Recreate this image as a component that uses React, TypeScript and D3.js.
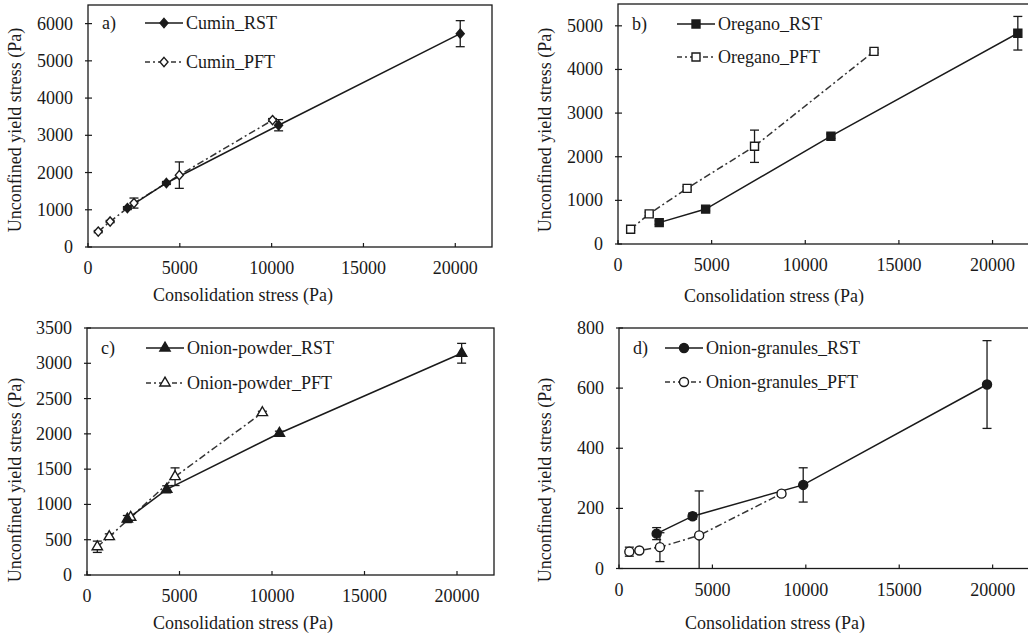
import React from 'react';
import * as d3 from 'd3';

// Cumin
const cuminRstX = [2145, 4270, 10380, 20270];
const cuminRstY = [1045, 1720, 3270, 5730];
const cuminRstErr = [40, 40, 150, 350];
const cuminPftX = [557, 1205, 2503, 4973, 10050];
const cuminPftY = [414, 684, 1180, 1930, 3410];
const cuminPftErr = [30, 30, 135, 355, 40];

// Oregano
const oreganoRstX = [2200, 4680, 11370, 21350];
const oreganoRstY = [490, 800, 2470, 4830];
const oreganoRstErr = [40, 40, 50, 385];
const oreganoPftX = [675, 1665, 3690, 7290, 13670];
const oreganoPftY = [338, 690, 1275, 2240, 4415];
const oreganoPftErr = [30, 40, 40, 370, 40];

// Onion powder
const powderRstX = [2180, 4310, 10400, 20250];
const powderRstY = [793, 1214, 2008, 3142];
const powderRstErr = [50, 50, 30, 140];
const powderPftX = [557, 1205, 2360, 4760, 9480];
const powderPftY = [400, 543, 817, 1393, 2300];
const powderPftErr = [80, 40, 40, 125, 20];

// Onion granules
const granRstX = [2015, 3940, 9860, 19700];
const granRstY = [116, 174, 278, 612];
const granRstErr = [20, 10, 57, 146];
const granPftX = [553, 1090, 2190, 4290, 8700];
const granPftY = [56, 60, 71, 110, 249];
const granPftErr = [15, 5, 48, 148, 8];

const xTicks = [0, 5000, 10000, 15000, 20000];
const yTicksA = [0, 1000, 2000, 3000, 4000, 5000, 6000];
const yTicksB = [0, 1000, 2000, 3000, 4000, 5000];
const yTicksC = [0, 500, 1000, 1500, 2000, 2500, 3000, 3500];
const yTicksD = [0, 200, 400, 600, 800];

const INK = '#1a1a1a';

type Series = { x: number[]; y: number[]; err: number[]; name: string };

const zip = (s: Series) => s.x.map((x, i) => ({ x, y: s.y[i], e: s.err[i] }));

const shapes: Record<string, string> = {
  diamond: 'M0,-4.6L4,0L0,4.6L-4,0Z',
  square: d3.symbol(d3.symbolSquare, 64)() || '',
  triangle: d3.symbol(d3.symbolTriangle, 46)() || '',
  circle: d3.symbol(d3.symbolCircle, 64)() || '',
};

function Marker({ type, filled, x, y }: { type: string; filled: boolean; x: number; y: number }) {
  return (
    <path
      d={shapes[type]}
      transform={`translate(${x},${y})`}
      fill={filled ? INK : '#fff'}
      stroke={INK}
      strokeWidth={1.4}
    />
  );
}

function T({ fs, children, ...rest }: any) {
  return (
    <text fill={INK} style={{ fontSize: fs + 'px', fontFamily: 'Liberation Serif' }} {...rest}>
      {children}
    </text>
  );
}

function Panel(props: {
  left: number; right: number; top: number; bottom: number;
  yMax: number; yTicks: number[]; tag: string; marker: string;
  rst: Series; pft: Series;
  legendX: number; legendY: number; legendGap: number;
  xTitle: [number, number]; yTitle: [number, number];
  fs: number;
}) {
  const { left, right, top, bottom, yMax, yTicks, tag, marker, rst, pft, fs } = props;
  const x = d3.scaleLinear().domain([0, 22000]).range([left, right]);
  const y = d3.scaleLinear().domain([0, yMax]).range([bottom, top]);
  const line = d3.line<{ x: number; y: number }>().x(d => x(d.x)).y(d => y(d.y));
  const pftPts = zip(pft);
  const rstPts = zip(rst);
  const dash = '7,3,2,3';

  const errBars = (pts: { x: number; y: number; e: number }[], key: string) =>
    pts.map((p, i) => {
      const cx = x(p.x);
      const y1 = y(Math.min(yMax, p.y + p.e));
      const y0 = y(Math.max(0, p.y - p.e));
      return (
        <g key={key + i} stroke={INK} strokeWidth={1.3}>
          <line x1={cx} x2={cx} y1={y0} y2={y1} />
          <line x1={cx - 4.5} x2={cx + 4.5} y1={y1} y2={y1} />
          {p.y - p.e > 0 && <line x1={cx - 4.5} x2={cx + 4.5} y1={y0} y2={y0} />}
        </g>
      );
    });

  const lx = props.legendX;
  const ly = props.legendY;
  return (
    <g>
      <rect x={left} y={top} width={right - left} height={bottom - top} fill="none" stroke={INK} strokeWidth={1.3} />
      {xTicks.map(t => (
        <g key={'xt' + t}>
          <line x1={x(t)} x2={x(t)} y1={bottom} y2={bottom - 4} stroke={INK} strokeWidth={1.2} />
          <T x={x(t)} y={bottom + 27} textAnchor="middle" fs={fs}>{t}</T>
        </g>
      ))}
      {yTicks.map(t => (
        <g key={'yt' + t}>
          <line x1={left - 3} x2={left + 4} y1={y(t)} y2={y(t)} stroke={INK} strokeWidth={1.2} />
          <T x={left - 15} y={y(t) + 6} textAnchor="end" fs={fs}>{t}</T>
        </g>
      ))}
      <T x={props.xTitle[0]} y={props.xTitle[1]} textAnchor="middle" fs={fs}>Consolidation stress (Pa)</T>
      <T
        transform={`translate(${props.yTitle[0] + 6},${props.yTitle[1]}) rotate(-90)`}
        textAnchor="middle"
        fs={fs}
      >Unconfined yield stress (Pa)</T>

      {errBars(pftPts, 'pe')}
      {errBars(rstPts, 're')}
      <path d={line(pftPts) || ''} fill="none" stroke="#333" strokeWidth={1.5} strokeDasharray={dash} />
      <path d={line(rstPts) || ''} fill="none" stroke={INK} strokeWidth={1.5} />
      {pftPts.map((p, i) => <Marker key={'pm' + i} type={marker} filled={false} x={x(p.x)} y={y(p.y)} />)}
      {rstPts.map((p, i) => <Marker key={'rm' + i} type={marker} filled={true} x={x(p.x)} y={y(p.y)} />)}

      <T x={left + 14} y={ly + 6} fs={fs}>{tag}</T>
      <line x1={lx} x2={lx + 38} y1={ly} y2={ly} stroke={INK} strokeWidth={1.5} />
      <Marker type={marker} filled={true} x={lx + 19} y={ly} />
      <T x={lx + 41} y={ly + 6} fs={fs}>{rst.name}</T>
      <line x1={lx} x2={lx + 38} y1={ly + props.legendGap} y2={ly + props.legendGap} stroke="#333" strokeWidth={1.5} strokeDasharray="5,3,2,3" />
      <Marker type={marker} filled={false} x={lx + 19} y={ly + props.legendGap} />
      <T x={lx + 41} y={ly + props.legendGap + 6} fs={fs}>{pft.name}</T>
    </g>
  );
}

export default function App() {
  return (
    <svg width={1028} height={636} style={{ position: 'absolute', left: 0, top: 0, background: '#fff' }}>
      <Panel
        left={88} right={492} top={5} bottom={247} yMax={6500} yTicks={yTicksA} tag="a)" marker="diamond"
        rst={{ x: cuminRstX, y: cuminRstY, err: cuminRstErr, name: 'Cumin_RST' }}
        pft={{ x: cuminPftX, y: cuminPftY, err: cuminPftErr, name: 'Cumin_PFT' }}
        legendX={145} legendY={23} legendGap={39} xTitle={[243, 301]} yTitle={[15, 130]} fs={18}
      />
      <Panel
        left={618} right={1030} top={4} bottom={244} yMax={5500} yTicks={yTicksB} tag="b)" marker="square"
        rst={{ x: oreganoRstX, y: oreganoRstY, err: oreganoRstErr, name: 'Oregano_RST' }}
        pft={{ x: oreganoPftX, y: oreganoPftY, err: oreganoPftErr, name: 'Oregano_PFT' }}
        legendX={677} legendY={24} legendGap={33} xTitle={[774, 302]} yTitle={[545, 130]} fs={18}
      />
      <Panel
        left={87} right={494} top={328} bottom={575} yMax={3500} yTicks={yTicksC} tag="c)" marker="triangle"
        rst={{ x: powderRstX, y: powderRstY, err: powderRstErr, name: 'Onion-powder_RST' }}
        pft={{ x: powderPftX, y: powderPftY, err: powderPftErr, name: 'Onion-powder_PFT' }}
        legendX={146} legendY={348} legendGap={35} xTitle={[243, 629]} yTitle={[15, 480]} fs={18}
      />
      <Panel
        left={619} right={1030} top={328} bottom={568.5} yMax={800} yTicks={yTicksD} tag="d)" marker="circle"
        rst={{ x: granRstX, y: granRstY, err: granRstErr, name: 'Onion-granules_RST' }}
        pft={{ x: granPftX, y: granPftY, err: granPftErr, name: 'Onion-granules_PFT' }}
        legendX={665} legendY={348} legendGap={34} xTitle={[775, 629]} yTitle={[545, 480]} fs={18}
      />
    </svg>
  );
}
